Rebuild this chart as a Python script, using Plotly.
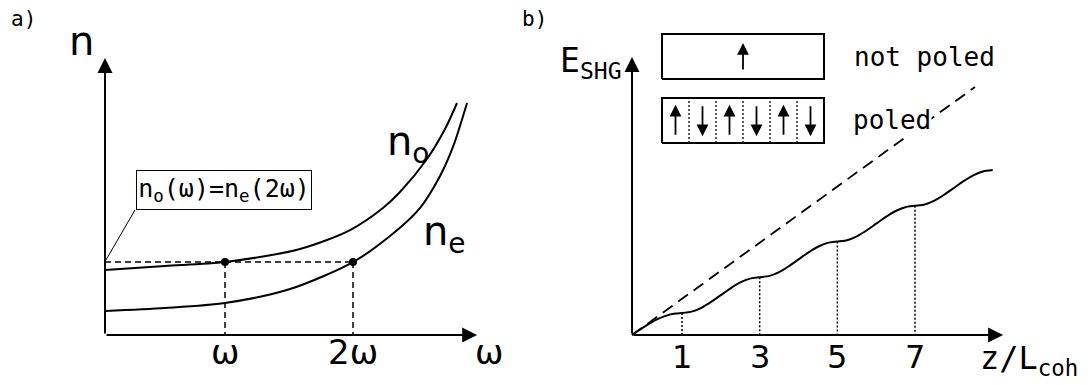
import plotly.graph_objects as go

W, H = 1091, 385

# ---------------- Panel a data (ω in units of the fundamental, n arbitrary) -------------
omega_no = [0.0625, 0.531, 1.0, 1.586, 1.977, 2.234, 2.367, 2.578, 2.719, 2.8125]
n_o      = [0.508, 0.539, 0.570, 0.672, 0.820, 0.992, 1.117, 1.375, 1.609, 1.8125]
omega_ne = [0.0625, 0.531, 1.0, 1.508, 2.0, 2.289, 2.523, 2.680, 2.781, 2.891]
n_e      = [0.1875, 0.211, 0.25, 0.359, 0.570, 0.773, 0.992, 1.242, 1.469, 1.8125]
match_n = 0.57
match_omega = [1.0, 2.0]
a_tick_vals = [1.0, 2.0]
a_tick_text = ["ω", "2ω"]
a_origin = (0.0625, 0.0)
a_xtip = 2.97
a_ytip = 2.165
leader_start = (0.297, 0.977)
leader_end = (0.07, 0.586)

# ---------------- Panel b data (z in coherence lengths, E_SHG arbitrary) -----------------
z_qpm = [-0.288, -0.127, 0.034, 0.356, 0.678, 0.839, 1.0,
         1.25, 1.5, 1.75, 2.0, 2.25, 2.5, 2.75, 3.0,
         3.25, 3.5, 3.75, 4.0, 4.25, 4.5, 4.75, 5.0,
         5.25, 5.5, 5.75, 6.0, 6.25, 6.5, 6.75, 7.0,
         7.25, 7.5, 7.75, 8.0, 8.25, 8.5, 8.75, 9.0]
E_qpm = [0.0, 0.111, 0.217, 0.401, 0.524, 0.556, 0.567,
         0.602, 0.701, 0.851, 1.027, 1.203, 1.353, 1.452, 1.487,
         1.522, 1.621, 1.771, 1.947, 2.123, 2.273, 2.372, 2.407,
         2.442, 2.541, 2.691, 2.867, 3.043, 3.193, 3.292, 3.327,
         3.362, 3.461, 3.611, 3.787, 3.963, 4.113, 4.212, 4.247]
z_pm = [-0.288, 8.545]
E_pm = [0.0, 6.387]
b_tick_vals = [1, 3, 5, 7]
b_tick_text = ["1", "3", "5", "7"]
b_plateau_E = [0.567, 1.487, 2.407, 3.327]
b_origin = (-0.288, 0.0)
b_xtip = 9.27
b_ytip = 7.16

# ---------------- Inset (poling domains) ----------------
n_cells = 6
cell_dirs = ["up", "down", "up", "down", "up", "down"]
poled_box_y = (0.0, 1.0)
unpoled_box_y = (1.42, 2.42)

# ---------------- pixel layout helpers ----------------
A_PX, A_OX, A_OY = 128.0, 225.0, 335.0   # panel a: px per unit, px of ω=1, py of n=0
B_PX, B_OX, B_OY = 38.83, 643.2, 335.0   # panel b: px per unit, px of z=0, py of E=0
I_PXX, I_PXY, I_OX, I_OY = 27.0, 45.0, 662.0, 143.0
SPLIT = 540.0

def ax_a(px):
    return 1 + (px - A_OX) / A_PX
def ay_a(py):
    return (A_OY - py) / A_PX
def ax_b(px):
    return (px - B_OX) / B_PX
def ay_b(py):
    return (B_OY - py) / B_PX

fig = go.Figure()
BLK = "black"

# Panel a curves
fig.add_trace(go.Scatter(x=omega_no, y=n_o, mode="lines", line=dict(color=BLK, width=2, shape="spline", smoothing=0.8), xaxis="x", yaxis="y"))
fig.add_trace(go.Scatter(x=omega_ne, y=n_e, mode="lines", line=dict(color=BLK, width=2, shape="spline", smoothing=0.8), xaxis="x", yaxis="y"))
# dashed guide lines
fig.add_trace(go.Scatter(
    x=[a_origin[0], match_omega[1], None, match_omega[0], match_omega[0], None, match_omega[1], match_omega[1]],
    y=[match_n, match_n, None, match_n, 0, None, match_n, 0],
    mode="lines", line=dict(color=BLK, width=1.5, dash="6px,4px"), xaxis="x", yaxis="y"))
fig.add_trace(go.Scatter(x=match_omega, y=[match_n, match_n], mode="markers",
                         marker=dict(color=BLK, size=8), xaxis="x", yaxis="y"))
# leader line to box
fig.add_trace(go.Scatter(x=[leader_start[0], leader_end[0]], y=[leader_start[1], leader_end[1]],
                         mode="lines", line=dict(color=BLK, width=1), xaxis="x", yaxis="y"))

# Panel b curves
fig.add_trace(go.Scatter(x=z_pm, y=E_pm, mode="lines", line=dict(color=BLK, width=1.8, dash="12px,7px"), xaxis="x2", yaxis="y2"))
fig.add_trace(go.Scatter(x=z_qpm, y=E_qpm, mode="lines", line=dict(color=BLK, width=2, shape="spline", smoothing=0.6), xaxis="x2", yaxis="y2"))
dx, dy = [], []
for zv, ev in zip(b_tick_vals, b_plateau_E):
    dx += [zv, zv, None]
    dy += [ev, 0, None]
fig.add_trace(go.Scatter(x=dx, y=dy, mode="lines", line=dict(color=BLK, width=1.5, dash="2px,2px"), xaxis="x2", yaxis="y2"))

# Inset boxes
for (y0, y1) in [poled_box_y, unpoled_box_y]:
    fig.add_trace(go.Scatter(x=[0, n_cells, n_cells, 0, 0], y=[y0, y0, y1, y1, y0], mode="lines",
                             line=dict(color=BLK, width=2), xaxis="x3", yaxis="y3"))
sx, sy = [], []
for k in range(1, n_cells):
    sx += [k, k, None]
    sy += [poled_box_y[0], poled_box_y[1], None]
fig.add_trace(go.Scatter(x=sx, y=sy, mode="lines", line=dict(color=BLK, width=1.3, dash="2px,2px"), xaxis="x3", yaxis="y3"))

ann = []
def arrow(xt, yt, xs, ys, xr, yr, size=1.5, width=2):
    ann.append(dict(x=xt, y=yt, ax=xs, ay=ys, xref=xr, yref=yr, axref=xr, ayref=yr, text="",
                    showarrow=True, arrowhead=2, arrowsize=size, arrowwidth=width, arrowcolor=BLK,
                    standoff=0, startstandoff=0))

# axes arrows
arrow(a_xtip, 0, a_origin[0], 0, "x", "y")
arrow(a_origin[0], a_ytip, a_origin[0], 0, "x", "y")
arrow(b_xtip, 0, b_origin[0], 0, "x2", "y2")
arrow(b_origin[0], b_ytip, b_origin[0], 0, "x2", "y2")
# domain arrows
for k, d in enumerate(cell_dirs):
    lo, hi = poled_box_y[0] + 0.15, poled_box_y[1] - 0.15
    if d == "up":
        arrow(k + 0.5, hi, k + 0.5, lo, "x3", "y3", size=1.3, width=1.8)
    else:
        arrow(k + 0.5, lo, k + 0.5, hi, "x3", "y3", size=1.3, width=1.8)
arrow(n_cells / 2, unpoled_box_y[1] - 0.2, n_cells / 2, unpoled_box_y[0] + 0.18, "x3", "y3", size=1.3, width=1.8)

SANS = "DejaVu Sans"
MONO = "DejaVu Sans Mono"

def text(x, y, s, xr, yr, size, font=SANS, xanchor="center", yanchor="middle", **kw):
    d = dict(x=x, y=y, xref=xr, yref=yr, text=s, showarrow=False, xanchor=xanchor, yanchor=yanchor,
             font=dict(family=font, size=size, color=BLK))
    d.update(kw)
    ann.append(d)

# panel labels
text(9 / W, 1 - 19 / H, "a)", "paper", "paper", 21, MONO, xanchor="left")
text(520 / W, 1 - 19 / H, "b)", "paper", "paper", 21, MONO, xanchor="left")

# panel a labels
text(ax_a(81), ay_a(41), "n", "x", "y", 40)
text(ax_a(385), ay_a(144), "n<sub>o</sub>", "x", "y", 40, xanchor="left")
text(ax_a(421), ay_a(234), "n<sub>e</sub>", "x", "y", 40, xanchor="left")
for v, t in zip(a_tick_vals, a_tick_text):
    text(v, ay_a(352), t, "x", "y", 34)
text(ax_a(489), ay_a(352), "ω", "x", "y", 34)
text(ax_a(224), ay_a(190), "n<sub>o</sub>(ω)=n<sub>e</sub>(2ω)", "x", "y", 25, MONO,
     bordercolor=BLK, borderwidth=1, borderpad=2, bgcolor="white", width=170, height=34)

# panel b labels
text(ax_b(558), ay_b(62), "E<sub>SHG</sub>", "x2", "y2", 33, MONO, xanchor="left")
for v, t in zip(b_tick_vals, b_tick_text):
    text(v, ay_b(357), t, "x2", "y2", 32)
text(ax_b(978), ay_b(360), "z/L<sub>coh</sub>", "x2", "y2", 32, MONO, xanchor="left")
text(852 / W, 1 - 57 / H, "not poled", "paper", "paper", 26, MONO, xanchor="left")
text(852 / W, 1 - 120 / H, "poled", "paper", "paper", 26, MONO, xanchor="left",
     bgcolor="white", borderpad=0)

hidden = dict(visible=False, showgrid=False, zeroline=False, fixedrange=True)
fig.update_layout(
    width=W, height=H, margin=dict(l=0, r=0, t=0, b=0),
    paper_bgcolor="white", plot_bgcolor="rgba(0,0,0,0)", showlegend=False,
    xaxis=dict(domain=[0, SPLIT / W], range=[ax_a(0), ax_a(SPLIT)], **hidden),
    yaxis=dict(domain=[0, 1], range=[ay_a(H), ay_a(0)], **hidden),
    xaxis2=dict(domain=[SPLIT / W, 1], range=[ax_b(SPLIT), ax_b(W)], anchor="y2", **hidden),
    yaxis2=dict(domain=[0, 1], range=[ay_b(H), ay_b(0)], anchor="x2", **hidden),
    xaxis3=dict(domain=[650 / W, 836 / W], range=[(650 - I_OX) / I_PXX, (836 - I_OX) / I_PXX], anchor="y3", **hidden),
    yaxis3=dict(domain=[1 - 150 / H, 1 - 25 / H], range=[(I_OY - 150) / I_PXY, (I_OY - 25) / I_PXY], anchor="x3", **hidden),
    annotations=ann,
)

fig.write_html("out.html", config={"displayModeBar": False},
               post_script="document.body.style.margin='0px';")
